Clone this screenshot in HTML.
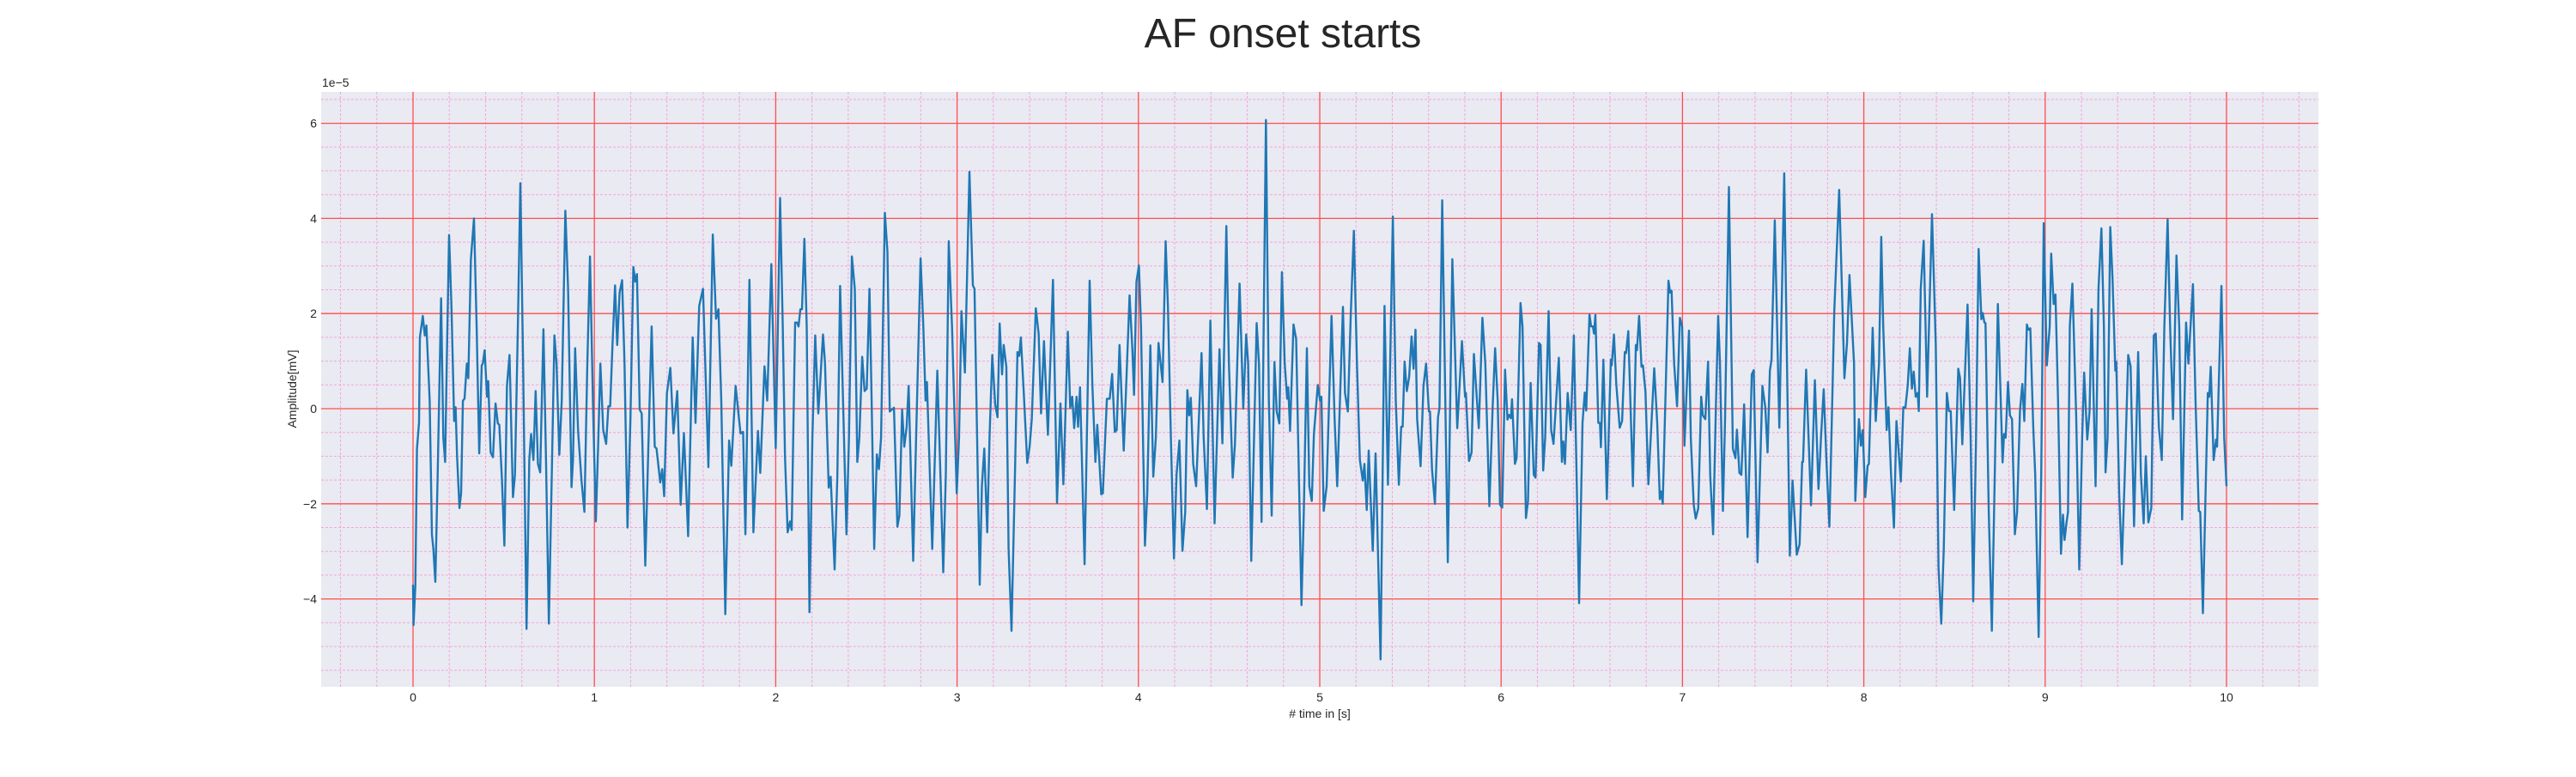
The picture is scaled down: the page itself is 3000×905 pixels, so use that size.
<!DOCTYPE html>
<html><head><meta charset="utf-8"><title>AF onset starts</title>
<style>
html,body{margin:0;padding:0;background:#fff;}
body{width:3000px;height:900px;overflow:hidden;font-family:"Liberation Sans",sans-serif;}
svg text{font-family:"Liberation Sans",sans-serif;fill:#262626;}
</style></head>
<body>
<svg id="chart" width="3000" height="900" viewBox="0 0 3000 900" xmlns="http://www.w3.org/2000/svg">
<text x="1494" y="55" font-size="48" text-anchor="middle">AF onset starts</text>
<rect x="374" y="107" width="2326" height="693" fill="#eaeaf2"/>
<g id="minor-grid"></g>
<g id="major-grid"></g>
<g id="series"></g>
<g id="xticks"></g>
<g id="yticks"></g>
<text x="375" y="101" font-size="14">1e−5</text>
<text x="1537" y="836" font-size="14" text-anchor="middle"># time in [s]</text>
<text x="345" y="453" font-size="14" text-anchor="middle" transform="rotate(-90 345 453)">Amplitude[mV]</text>
</svg>
<script>
const xTicks=[0,1,2,3,4,5,6,7,8,9,10];
const xTickLabels=["0","1","2","3","4","5","6","7","8","9","10"];
const yTicks=[-4,-2,0,2,4,6];
const yTickLabels=["−4","−2","0","2","4","6"];
const times=[0,0.003,0.013,0.022,0.033,0.038,0.054,0.065,0.074,0.092,0.104,0.112,0.123,0.136,0.155,0.167,0.177,0.186,0.199,0.212,0.227,0.235,0.243,0.256,0.265,0.275,0.284,0.297,0.305,0.319,0.336,0.351,0.365,0.379,0.385,0.395,0.408,0.415,0.428,0.441,0.455,0.468,0.476,0.491,0.504,0.518,0.532,0.543,0.551,0.562,0.578,0.592,0.607,0.626,0.641,0.651,0.664,0.676,0.689,0.701,0.719,0.733,0.749,0.765,0.780,0.791,0.807,0.820,0.840,0.855,0.874,0.882,0.894,0.910,0.929,0.945,0.961,0.976,0.992,1.008,1.021,1.033,1.049,1.065,1.077,1.087,1.100,1.114,1.126,1.139,1.153,1.166,1.183,1.199,1.215,1.226,1.235,1.250,1.261,1.281,1.297,1.316,1.333,1.343,1.363,1.374,1.385,1.400,1.419,1.436,1.457,1.476,1.494,1.517,1.542,1.558,1.578,1.599,1.629,1.653,1.671,1.684,1.700,1.722,1.743,1.755,1.779,1.806,1.820,1.833,1.855,1.877,1.902,1.915,1.938,1.953,1.976,
1.989,2.000,2.024,2.039,2.051,2.066,2.079,2.088,2.107,2.118,2.126,2.136,2.145,2.158,2.171,2.186,2.202,2.218,2.235,2.261,2.272,2.292,2.303,2.325,2.340,2.355,2.371,2.390,2.404,2.420,2.436,2.450,2.461,2.477,2.490,2.502,2.517,2.529,2.543,2.558,2.569,2.581,2.602,2.616,2.629,2.640,2.652,2.671,2.682,2.697,2.709,2.722,2.733,2.758,2.774,2.799,2.814,2.826,2.834,2.863,2.891,2.908,2.924,2.938,2.954,2.972,2.998,3.011,3.024,3.043,3.068,3.087,3.096,3.114,3.125,3.137,3.150,3.166,3.179,3.194,3.210,3.223,3.235,3.248,3.257,3.272,3.284,3.300,3.319,3.333,3.343,3.352,3.368,3.387,3.400,3.412,3.434,3.450,3.463,3.479,3.501,3.529,3.551,3.570,3.586,3.611,3.624,3.635,3.646,3.659,3.667,3.678,3.703,3.731,3.746,3.763,3.773,3.795,3.804,3.817,3.826,3.842,3.855,3.870,3.880,3.896,3.919,3.951,3.967,
3.976,3.989,4.003,4.014,4.036,4.049,4.066,4.082,4.096,4.111,4.133,4.150,4.163,4.179,4.196,4.210,4.226,4.243,4.258,4.270,4.280,4.289,4.302,4.318,4.330,4.348,4.360,4.378,4.397,4.420,4.447,4.463,4.485,4.499,4.520,4.532,4.558,4.578,4.594,4.605,4.622,4.652,4.665,4.679,4.703,4.719,4.735,4.750,4.763,4.777,4.791,4.807,4.820,4.826,4.836,4.855,4.870,4.899,4.912,4.929,4.942,4.956,4.968,4.989,5.002,5.009,5.022,5.038,5.065,5.082,5.096,5.128,5.139,5.155,5.171,5.188,5.205,5.221,5.237,5.246,5.259,5.270,5.292,5.308,5.335,5.357,5.376,5.403,5.419,5.436,5.449,5.457,5.468,5.480,5.493,5.506,5.517,5.528,5.537,5.556,5.572,5.586,5.602,5.608,5.619,5.635,5.652,5.660,5.675,5.692,5.706,5.731,5.758,5.784,5.801,5.806,5.823,5.837,5.850,5.877,5.897,5.913,5.935,5.953,
5.967,5.981,5.994,6.006,6.022,6.035,6.044,6.054,6.060,6.076,6.085,6.107,6.118,6.137,6.148,6.163,6.180,6.190,6.209,6.218,6.232,6.243,6.262,6.276,6.289,6.318,6.335,6.343,6.352,6.367,6.384,6.401,6.430,6.449,6.461,6.469,6.487,6.496,6.506,6.512,6.520,6.536,6.545,6.550,6.564,6.583,6.605,6.610,6.622,6.635,6.654,6.667,6.682,6.689,6.701,6.727,6.743,6.749,6.761,6.774,6.782,6.796,6.812,6.844,6.861,6.875,6.883,6.891,6.923,6.932,6.940,6.954,6.970,6.986,6.998,7.011,7.036,7.046,7.062,7.073,7.087,7.103,7.112,7.126,7.141,7.153,7.169,7.185,7.197,7.207,7.223,7.235,7.256,7.278,7.292,7.300,7.314,7.325,7.340,7.359,7.382,7.393,7.414,7.441,7.457,7.469,7.482,7.491,7.509,7.534,7.561,7.592,7.607,7.630,7.646,7.660,7.665,7.682,7.709,7.730,7.750,7.765,7.779,7.795,7.810,7.837,7.864,7.893,7.907,7.921,7.946,
7.953,7.973,7.984,7.994,8.008,8.021,8.028,8.049,8.066,8.084,8.096,8.107,8.126,8.136,8.150,8.166,8.180,8.204,8.218,8.229,8.242,8.254,8.265,8.275,8.286,8.297,8.303,8.314,8.330,8.349,8.376,8.397,8.412,8.427,8.441,8.458,8.469,8.479,8.498,8.521,8.531,8.543,8.572,8.589,8.603,8.619,8.633,8.648,8.656,8.665,8.671,8.689,8.706,8.722,8.739,8.765,8.773,8.782,8.795,8.806,8.817,8.833,8.845,8.861,8.874,8.885,8.899,8.907,8.918,8.934,8.945,8.964,8.978,8.992,9.009,9.025,9.033,9.047,9.057,9.071,9.087,9.098,9.107,9.118,9.126,9.136,9.150,9.171,9.188,9.204,9.215,9.232,9.245,9.256,9.278,9.294,9.310,9.324,9.333,9.344,9.359,9.371,9.387,9.392,9.408,9.423,9.439,9.458,9.471,9.490,9.513,9.528,9.543,9.555,9.569,9.585,9.599,9.610,9.627,9.643,9.657,9.675,9.689,9.705,9.724,9.739,9.755,9.777,9.790,9.815,9.829,9.847,9.855,9.870,9.882,9.897,9.905,9.913,9.929,9.942,9.948,9.972,9.987,10.000];
const amps=[-3.70,-4.55,-3.73,-0.84,-0.30,1.50,1.95,1.54,1.75,0.17,-2.64,-2.95,-3.64,-1.39,2.32,-0.61,-1.12,0.95,3.65,2.13,-0.26,0.03,-1.00,-2.09,-1.78,0.17,0.21,0.95,0.64,3.14,4.00,1.73,-0.94,0.91,0.95,1.23,0.25,0.58,-0.92,-1.02,0.11,-0.31,-0.34,-1.55,-2.88,0.48,1.13,-0.61,-1.86,-1.39,1.73,4.74,0.95,-4.63,-1.08,-0.53,-1.08,0.37,-1.16,-1.34,1.67,-1.00,-4.52,-1.39,1.54,0.95,-0.97,0.17,4.16,2.52,-1.65,-1.08,1.27,-0.45,-1.51,-2.17,0.95,3.20,0.17,-2.37,-0.77,0.95,-0.45,-0.74,0.05,0.05,1.34,2.59,1.34,2.44,2.70,0.95,-2.50,-0.22,2.98,2.67,2.83,-0.02,-0.10,-3.30,-0.92,1.73,-0.80,-0.84,-1.55,-1.27,-1.84,0.33,0.86,-0.52,0.37,-2.02,-0.51,-2.68,1.50,-0.30,2.16,2.52,-1.23,3.66,1.89,2.09,0.17,-4.32,-0.67,-1.20,0.48,-0.52,-0.49,-2.64,2.71,-2.60,-0.47,-1.35,0.89,0.17,3.04,
0.95,-0.83,4.43,1.73,-1.00,-2.60,-2.37,-2.55,1.81,1.81,1.73,2.09,2.09,3.57,1.73,-4.28,-0.61,1.54,-0.10,1.56,0.95,-1.66,-1.43,-3.38,-1.39,2.58,0.17,-2.64,-0.61,3.20,2.52,-1.12,-0.61,1.09,0.37,0.42,2.52,0.17,-2.95,-0.96,-1.27,-0.61,4.12,3.30,-0.06,-0.02,0.02,-2.48,-2.25,-0.02,-0.80,-0.38,0.48,-3.20,-0.61,3.16,1.73,0.17,0.56,-2.95,0.80,-1.39,-3.44,-1.39,3.52,1.73,-1.78,-0.61,2.05,0.76,4.98,2.59,2.52,-1.39,-3.70,-1.63,-0.84,-2.60,-0.61,1.13,0.09,-0.18,1.79,0.72,1.34,0.88,-2.95,-4.67,-1.39,1.19,1.11,1.50,0.33,-1.14,-0.80,-0.22,2.11,1.58,-0.10,1.42,-0.55,2.71,-1.98,0.11,-1.59,1.62,0.02,0.25,-0.41,0.25,-0.38,0.45,-3.27,2.69,0.48,-1.12,-0.34,-1.80,-1.78,-0.57,0.21,0.21,0.73,-0.49,-0.45,1.34,-0.88,2.38,1.23,
0.29,2.67,3.01,1.73,-2.88,-1.78,1.33,-1.43,-0.61,1.38,0.56,3.52,2.13,-0.61,-3.15,-1.39,-0.67,-2.99,-2.17,0.39,-0.14,0.23,-1.16,-1.63,-0.53,1.17,-0.61,-2.11,1.85,-2.41,1.25,-0.73,3.84,0.95,-1.45,-0.75,2.63,0.00,1.56,0.95,-3.20,1.80,0.95,-2.38,6.07,0.17,-2.25,0.98,-0.06,-0.31,2.87,0.95,0.21,0.45,-0.47,1.77,1.46,-4.13,-2.17,1.27,-1.63,-1.94,-0.53,0.50,0.17,0.25,-2.15,-1.63,1.95,-0.22,-1.63,2.14,0.33,-0.06,1.97,3.74,0.95,-1.08,-1.51,-1.16,-2.13,-0.88,-2.99,-0.94,-5.27,2.16,-1.60,4.04,0.17,-1.60,-0.38,-0.38,0.99,0.37,0.67,1.52,0.84,1.66,-0.22,-1.21,0.48,0.95,-0.06,-0.06,-1.27,-2.00,-0.18,0.02,4.38,0.17,-3.23,3.14,-0.41,1.42,0.25,0.33,-1.10,-0.92,1.15,-0.41,1.91,0.95,-2.05,0.02,
1.27,0.17,-2.02,-2.08,0.82,-0.23,-0.13,-0.20,0.20,-1.16,-1.04,2.22,1.73,-2.30,-1.94,0.54,-1.39,-1.45,1.38,1.34,-1.30,-0.61,2.05,-0.45,-0.74,1.07,-1.12,-0.69,-1.16,0.33,-0.45,1.54,-4.09,-0.30,0.34,-0.04,1.98,1.73,1.73,1.58,1.97,-0.30,-0.30,-0.81,1.03,-1.90,1.03,0.91,1.56,0.52,-0.40,-0.26,1.19,1.17,1.63,-1.63,1.34,1.23,1.95,0.88,0.91,0.35,-1.59,0.85,-0.30,-1.90,-1.74,-2.00,2.69,2.44,2.48,0.95,0.05,1.91,1.73,-0.78,1.64,-0.61,-2.02,-2.31,-2.09,0.25,-0.14,-0.22,0.99,-1.39,-2.64,0.17,1.95,0.95,-2.15,-0.22,4.66,-0.84,-1.04,-0.44,-1.35,-1.39,0.09,-2.70,0.72,0.81,-3.23,0.48,0.02,-0.92,0.80,1.03,3.96,-0.40,4.95,-3.09,-1.51,-3.07,-2.85,-1.12,-1.12,0.82,-2.03,0.60,-1.69,-0.51,0.41,-1.20,-2.48,2.05,4.60,0.64,1.38,2.81,0.95,
-1.94,-0.22,-0.78,-0.45,-1.86,-1.20,-1.16,1.70,-0.26,0.95,3.61,1.73,-0.45,0.03,-1.39,-2.50,-0.26,-1.53,0.03,0.02,0.48,1.27,0.42,0.78,0.25,0.33,-0.05,2.52,3.53,0.25,4.09,1.34,-3.34,-4.52,-2.95,0.33,-0.05,-0.05,-2.13,0.84,0.64,-0.75,2.19,-0.61,-4.05,-0.61,3.36,1.88,2.01,1.81,1.80,-2.17,-4.67,-1.39,2.20,-1.13,-0.53,-0.61,0.56,-0.14,-0.22,-2.64,-2.17,-0.06,0.52,-0.26,1.77,1.66,1.69,-0.38,-1.39,-4.80,-1.39,3.90,0.91,1.73,3.26,2.20,2.40,0.17,-3.05,-2.23,-2.76,-2.39,-2.17,1.73,2.63,-0.14,-3.38,-0.61,0.76,-0.65,-0.06,2.09,-1.63,2.52,3.79,1.73,-1.34,-0.61,3.82,2.75,0.80,0.99,-1.78,-3.27,-1.39,1.13,0.89,-2.47,1.19,-1.39,-2.41,-1.00,-2.39,-2.09,1.54,1.58,-0.38,-1.08,1.73,3.98,1.73,-0.22,3.22,1.73,-2.33,1.81,0.95,2.62,0.17,-2.15,-2.17,-4.30,-2.17,0.33,0.25,0.88,-1.08,-0.65,-0.80,2.58,-0.61,-1.63];

const NS='http://www.w3.org/2000/svg';
const PL=374,PR=2700,PT=107,PB=800;
function xScale(t){return 481+211.2*t;}
function yScale(v){return 476-55.4*v;}
function mk(tag,attrs,parent){const e=document.createElementNS(NS,tag);for(const k in attrs)e.setAttribute(k,attrs[k]);parent.appendChild(e);return e;}

const minorG=document.getElementById('minor-grid');
for(let i=-2;i<=52;i++){const t=i*0.2;if(i%5===0)continue;const x=xScale(t);if(x<PL||x>PR)continue;
 const l=mk('line',{x1:x,x2:x,y1:PT,y2:PB,stroke:'#f2a6dc','stroke-width':1,'stroke-dasharray':'3,2'},minorG);
 
 }
for(let i=-12;i<=13;i++){const v=i*0.5;if(i%4===0)continue;const y=yScale(v);if(y<PT||y>PB)continue;
 const l=mk('line',{x1:PL,x2:PR,y1:y,y2:y,stroke:'#f2a6dc','stroke-width':1,'stroke-dasharray':'3,2'},minorG);
 
 }

const majorG=document.getElementById('major-grid');
const xt=document.getElementById('xticks');
xTicks.forEach((t,i)=>{const x=xScale(t);
 const l=mk('line',{x1:x,x2:x,y1:PT,y2:PB,stroke:'#ff4d4d','stroke-width':1.3},majorG);
 
 
 const tx=mk('text',{x:x,y:817,'font-size':14,'text-anchor':'middle'},xt);
 tx.textContent=xTickLabels[i];
 
 });
const yt=document.getElementById('yticks');
yTicks.forEach((v,i)=>{const y=yScale(v);
 const l=mk('line',{x1:PL,x2:PR,y1:y,y2:y,stroke:'#ff4d4d','stroke-width':1.3},majorG);
 
 
 const tx=mk('text',{x:369,y:y+5,'font-size':14,'text-anchor':'end'},yt);
 tx.textContent=yTickLabels[i];
 
 });

const sg=document.getElementById('series');
let d='';
for(let i=0;i<times.length&&i<amps.length;i++){d+=(i?'L':'M')+xScale(times[i]).toFixed(1)+','+yScale(amps[i]).toFixed(1);}
const path=mk('path',{d:d,fill:'none',stroke:'#1f77b4','stroke-width':2.4,'stroke-linejoin':'round'},sg);


</script>
</body></html>
